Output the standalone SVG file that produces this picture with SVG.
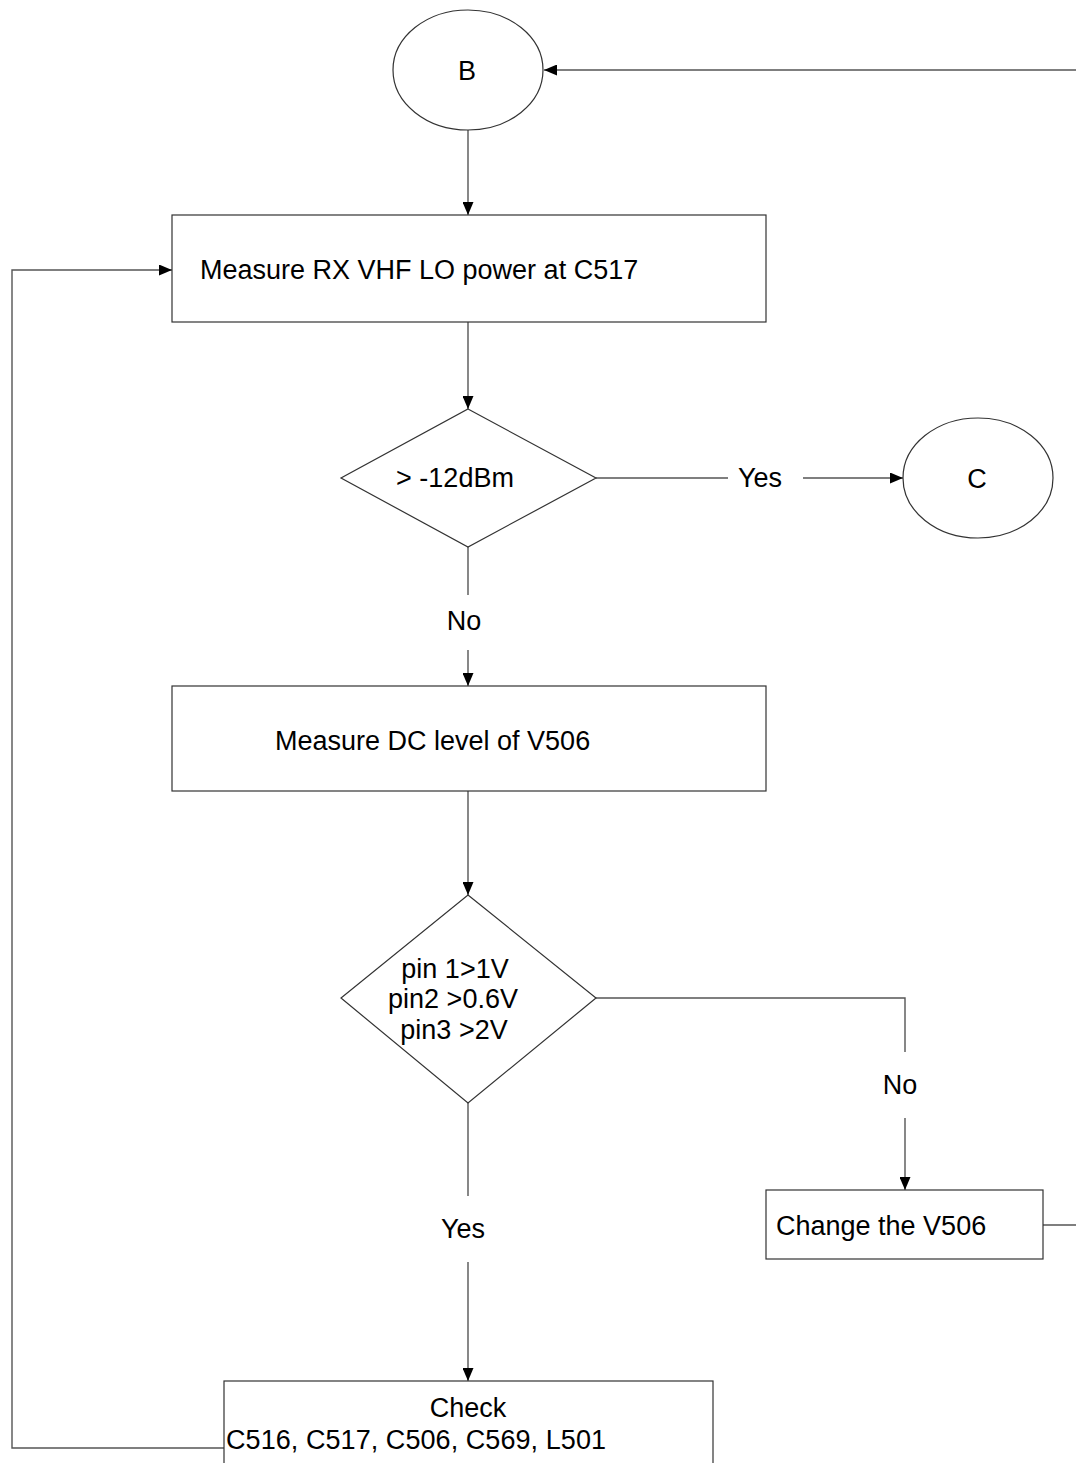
<svg xmlns="http://www.w3.org/2000/svg" width="1076" height="1463" viewBox="0 0 1076 1463">
<defs>
<style>
.n{fill:#fff;stroke:#333;stroke-width:1.2}
.c{fill:none;stroke:#555;stroke-width:1.4}
text{font-family:"Liberation Sans",Arial,sans-serif;font-size:27px;fill:#000}
.m{text-anchor:middle}
</style>
<marker id="a" markerWidth="13" markerHeight="11" refX="13" refY="5.5" orient="auto" markerUnits="userSpaceOnUse">
<path d="M0,0 L13,5.5 L0,11 Z" fill="#000"/>
</marker>
</defs>
<rect width="1076" height="1463" fill="#fff"/>
<g id="connectors">
<path class="c" d="M1076,70 H544" marker-end="url(#a)"/>
<path class="c" d="M468,130 V215" marker-end="url(#a)"/>
<path class="c" d="M468,322 V409" marker-end="url(#a)"/>
<path class="c" d="M596,478 H728"/>
<path class="c" d="M803,478 H903" marker-end="url(#a)"/>
<path class="c" d="M468,547 V595"/>
<path class="c" d="M468,650 V686" marker-end="url(#a)"/>
<path class="c" d="M468,791 V895" marker-end="url(#a)"/>
<path class="c" d="M596,998 H905 V1052"/>
<path class="c" d="M905,1118 V1190" marker-end="url(#a)"/>
<path class="c" d="M1043,1225 H1076"/>
<path class="c" d="M468,1103 V1196"/>
<path class="c" d="M468,1262 V1381" marker-end="url(#a)"/>
<path class="c" d="M224,1448 H12 V270 H172" marker-end="url(#a)"/>
<text class="m" x="760" y="487">Yes</text>
<text class="m" x="464" y="630">No</text>
<text class="m" x="900" y="1094">No</text>
<text class="m" x="463" y="1238">Yes</text>
</g>
<g id="nodeB">
<ellipse class="n" cx="468" cy="70" rx="75" ry="60"/>
<text class="m" x="467" y="80">B</text>
</g>
<g id="box1">
<rect class="n" x="172" y="215" width="594" height="107"/>
<text x="200" y="279">Measure RX VHF LO power at C517</text>
</g>
<g id="dec1">
<polygon class="n" points="468,409 596,478 468,547 341,478"/>
<text class="m" x="455" y="487">&gt; -12dBm</text>
</g>
<g id="nodeC">
<ellipse class="n" cx="978" cy="478" rx="75" ry="60"/>
<text class="m" x="977" y="488">C</text>
</g>
<g id="box2">
<rect class="n" x="172" y="686" width="594" height="105"/>
<text x="275" y="750">Measure DC level of V506</text>
</g>
<g id="dec2">
<polygon class="n" points="468,895 596,998 468,1103 341,998"/>
<text class="m" x="455" y="978">pin 1&gt;1V</text>
<text class="m" x="453" y="1008">pin2 &gt;0.6V</text>
<text class="m" x="454" y="1039">pin3 &gt;2V</text>
</g>
<g id="box3">
<rect class="n" x="766" y="1190" width="277" height="69"/>
<text x="776" y="1235">Change the V506</text>
</g>
<g id="box4">
<rect class="n" x="224" y="1381" width="489" height="100"/>
<text class="m" x="468" y="1417">Check</text>
<text x="226" y="1449" textLength="380">C516, C517, C506, C569, L501</text>
</g>
</svg>
